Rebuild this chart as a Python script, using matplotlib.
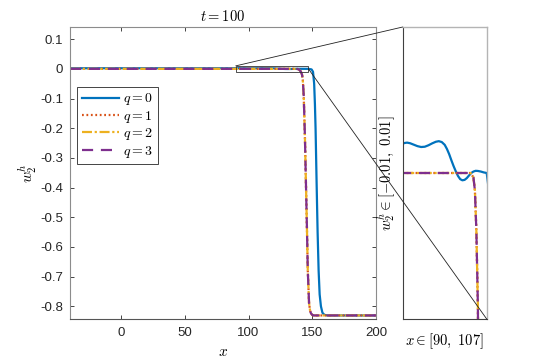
import matplotlib
matplotlib.use('Agg')
import matplotlib.pyplot as plt
from matplotlib.patches import Rectangle, ConnectionPatch

plt.rcParams['font.family'] = ['Liberation Sans', 'DejaVu Sans']
plt.rcParams['mathtext.fontset'] = 'cm'
plt.rcParams['axes.unicode_minus'] = False

# q = 0 (solid blue)
x_q0 = [-40, 60, 90, 91.5, 93, 95, 97.5, 100, 102.5, 105, 107.5, 110, 112.5, 114.5,
        116.5, 118.5, 120, 121.5, 123, 124.5, 126, 127.5, 129, 130.5, 132, 133.5,
        135, 136.5, 138, 139.5, 141, 143, 145, 147, 149.5, 150.6, 151.5, 152.1,
        152.6, 153.4, 154.2, 155, 155.8, 156.8, 158, 159.5, 162, 200]
y_q0 = [0.002, 0.002, 0.00201, 0.00206, 0.00208, 0.00204, 0.00194, 0.00184, 0.00178,
        0.0018, 0.0019, 0.00203, 0.00214, 0.00218, 0.00212, 0.00193, 0.00165, 0.0013,
        0.00088, 0.00048, 0.00012, -0.0002, -0.00042, -0.0005, -0.00047, -0.00035,
        -0.00017, 0.0, 0.0001, 0.00015, 0.00014, 0.0001, 0.00004, 0.0,
        -0.002, -0.01, -0.05, -0.12, -0.2, -0.38, -0.55, -0.68, -0.76, -0.80,
        -0.822, -0.829, -0.831, -0.831]

# q = 1, 2, 3 lie on top of each other
x_q123 = [-40, 136, 138, 139, 140, 141, 142, 142.6, 143.3, 144.2, 145, 145.8, 146.5,
          147.5, 148.3, 149, 150, 151, 200]
y_q123 = [0, 0, -0.0003, -0.0012, -0.004, -0.009, -0.02, -0.038, -0.09, -0.22, -0.376,
          -0.53, -0.68, -0.79, -0.815, -0.824, -0.829, -0.831, -0.831]

labels = ['$q = 0$', '$q = 1$', '$q = 2$', '$q = 3$']
colors = ['#0072BD', '#D95319', '#EDB120', '#7E2F8E']
x_ticks = [0, 50, 100, 150, 200]
y_ticks = [0.1, 0, -0.1, -0.2, -0.3, -0.4, -0.5, -0.6, -0.7, -0.8]
y_tick_labels = ['0.1', '0', '-0.1', '-0.2', '-0.3', '-0.4', '-0.5', '-0.6', '-0.7', '-0.8']
zoom_x = (90, 147)
zoom_y = (-0.01, 0.01)

W, H = 538, 359
fig = plt.figure(figsize=(W / 100, H / 100), dpi=100)
ax = fig.add_axes([70 / W, 40 / H, 306 / W, 292 / H])
ax_in = fig.add_axes([402.7 / W, 40 / H, 84 / W, 292 / H])


def draw_lines(a):
    a.plot(x_q0, y_q0, color=colors[0], lw=1.6, label=labels[0])
    a.plot(x_q123, y_q123, color=colors[1], lw=1.6, linestyle=(0, (0.8, 1.2)), label=labels[1])
    a.plot(x_q123, y_q123, color=colors[2], lw=1.6, linestyle=(0, (4.5, 1.2, 1, 1.2)), label=labels[2])
    a.plot(x_q123, y_q123, color=colors[3], lw=1.6, linestyle=(0, (5, 3.5)), label=labels[3])


draw_lines(ax)
ax.set_xlim(-40, 200)
ax.set_ylim(-0.843, 0.141)
ax.set_xticks(x_ticks)
ax.set_yticks(y_ticks)
ax.set_yticklabels(y_tick_labels)
ax.tick_params(direction='in', length=3, width=0.6, colors='#262626', labelsize=9.5,
               top=True, right=True, pad=5)
ax.tick_params(axis='x', pad=6)
for s in ax.spines.values():
    s.set_color('#8c8c8c')
    s.set_linewidth(0.8)
ax.spines['bottom'].set_color('#555555')
ax.set_title('$t = 100$', fontsize=10.5, pad=4)
ax.set_xlabel('$x$', fontsize=11, labelpad=4)
ax.set_ylabel('$w_2^h$', fontsize=11, labelpad=1)

leg = ax.legend(loc='upper left', bbox_to_anchor=(0.024, 0.7935), borderaxespad=0,
                fontsize=10, handlelength=2.7, fancybox=False, framealpha=1,
                edgecolor='#262626', labelspacing=0.1, handletextpad=0.3,
                borderpad=0.3)
leg.get_frame().set_linewidth(0.6)

rect = Rectangle((zoom_x[0], zoom_y[0]), zoom_x[1] - zoom_x[0], zoom_y[1] - zoom_y[0],
                 fill=False, edgecolor='#333333', lw=0.6, zorder=5)
ax.add_patch(rect)

draw_lines(ax_in)
ax_in.set_xlim(*zoom_x)
ax_in.set_ylim(*zoom_y)
ax_in.set_xticks([])
ax_in.set_yticks([])
for side in ['left', 'bottom']:
    ax_in.spines[side].set_color('#404040')
    ax_in.spines[side].set_linewidth(0.8)
for side in ['top', 'right']:
    ax_in.spines[side].set_color('#b4b4b4')
    ax_in.spines[side].set_linewidth(1.0)
ax_in.set_xlabel(r'$x \in [90,\ 107]$', fontsize=10.5, labelpad=9)
ax_in.set_ylabel(r'$w_2^h \in [-0.01,\ 0.01]$', fontsize=10.5, labelpad=4)

con1 = ConnectionPatch(xyA=(zoom_x[0], zoom_y[1]), coordsA=ax.transData,
                       xyB=(0, 1), coordsB=ax_in.transAxes, color='#222222', lw=0.6)
con2 = ConnectionPatch(xyA=(zoom_x[1], 0), coordsA=ax.transData,
                       xyB=(1, 0), coordsB=ax_in.transAxes, color='#222222', lw=0.6)
fig.add_artist(con1)
fig.add_artist(con2)

fig.savefig('out.png', dpi=100)
